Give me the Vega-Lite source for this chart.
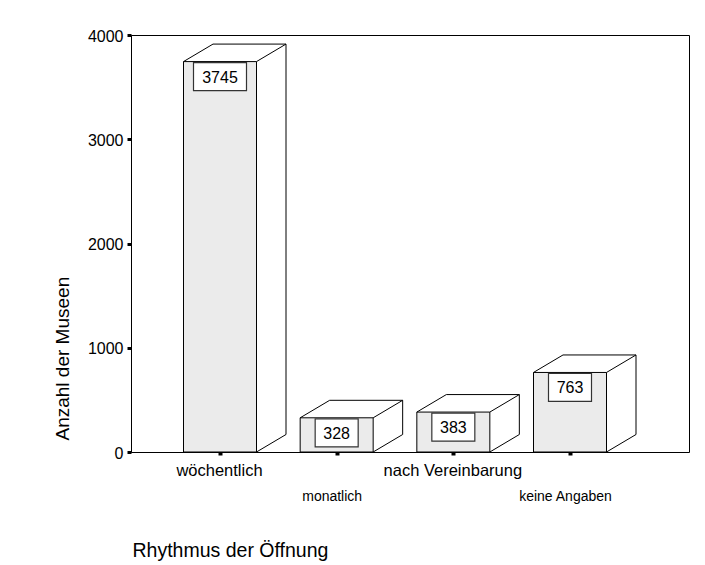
{
  "$schema": "https://vega.github.io/schema/vega-lite/v6.json",
  "width": 558,
  "height": 417,
  "autosize": {"type": "none"},
  "padding": {"left": 131, "top": 35, "right": 16, "bottom": 113},
  "background": "white",
  "config": {
    "font": "Liberation Sans",
    "view": {"stroke": "#000", "strokeWidth": 1}
  },
  "data": {
    "values": [
      {"cat": "wöchentlich", "value": 3745},
      {"cat": "monatlich", "value": 328},
      {"cat": "nach Vereinbarung", "value": 383},
      {"cat": "keine Angaben", "value": 763}
    ]
  },
  "encoding": {
    "x": {
      "field": "cat",
      "type": "nominal",
      "sort": null,
      "scale": {"type": "point", "range": [89, 439], "padding": 0},
      "axis": {
        "title": "Rhythmus der Öffnung",
        "titleFontSize": 19.5,
        "titleFontWeight": "normal",
        "titleColor": "#000",
        "titleX": 1,
        "titleY": 104,
        "titleAlign": "left",
        "titleBaseline": "alphabetic",
        "titleAnchor": "start",
        "labelAngle": 0,
        "labelFontSize": {"condition": {"test": "datum.value === 'monatlich' || datum.value === 'keine Angaben'", "value": 14}, "value": 16.5},
        "labelPadding": {"condition": {"test": "datum.value === 'monatlich' || datum.value === 'keine Angaben'", "value": 45}, "value": 20},
        "labelOffset": {"condition": {"test": "datum.value === 'monatlich' || datum.value === 'keine Angaben'", "value": -5}, "value": -1},
        "labelBaseline": "alphabetic",
        "labelColor": "#000",
        "labelOverlap": false,
        "labelFlush": false,
        "labelLimit": 0,
        "tickSize": 3,
        "tickWidth": 4,
        "tickColor": "#000",
        "domainColor": "#000",
        "domainWidth": 1
      }
    },
    "y": {
      "field": "value",
      "type": "quantitative",
      "scale": {"domain": [0, 4000], "nice": false, "zero": true},
      "axis": {
        "title": "Anzahl der Museen",
        "values": [0, 1000, 2000, 3000, 4000],
        "format": "d",
        "grid": false,
        "labelFontSize": 16,
        "labelPadding": 4,
        "labelColor": "#000",
        "labelBaseline": "middle",
        "labelOffset": 1,
        "labelFlush": false,
        "tickSize": 4,
        "tickWidth": 3,
        "tickColor": "#000",
        "domainColor": "#000",
        "domainWidth": 1,
        "titleFontSize": 19,
        "titleFontWeight": "normal",
        "titleColor": "#000",
        "titleX": -63,
        "titleY": 405,
        "titleAlign": "left",
        "titleBaseline": "alphabetic",
        "titleAngle": 270
      }
    }
  },
  "layer": [
    {
      "mark": {"type": "bar", "width": 73, "fill": "#ebebeb", "stroke": "#000", "strokeWidth": 1}
    },
    {
      "mark": {"type": "rule", "color": "#000", "strokeWidth": 1, "xOffset": -36.5, "x2Offset": -7, "y2Offset": -17.5},
      "encoding": {"x2": {"field": "cat"}, "y2": {"field": "value"}}
    },
    {
      "mark": {"type": "rule", "color": "#000", "strokeWidth": 1, "xOffset": 36.5, "x2Offset": 66, "y2Offset": -17.5},
      "encoding": {"x2": {"field": "cat"}, "y2": {"field": "value"}}
    },
    {
      "mark": {"type": "rule", "color": "#000", "strokeWidth": 1, "xOffset": -7, "x2Offset": 66, "yOffset": -17.5, "y2Offset": -17.5},
      "encoding": {"x2": {"field": "cat"}, "y2": {"field": "value"}}
    },
    {
      "mark": {"type": "rule", "color": "#000", "strokeWidth": 1, "xOffset": 66, "yOffset": -17.5, "y2Offset": -17.5},
      "encoding": {"y2": {"datum": 0}}
    },
    {
      "mark": {"type": "rule", "color": "#000", "strokeWidth": 1, "xOffset": 36.5, "x2Offset": 66, "y2Offset": -17.5},
      "encoding": {"x2": {"field": "cat"}, "y": {"datum": 0, "type": "quantitative"}, "y2": {"datum": 0}}
    },
    {
      "transform": [{"filter": "datum.value >= 1000"}],
      "mark": {"type": "rect", "fill": "white", "stroke": "#333", "strokeWidth": 1.2, "xOffset": -26.5, "x2Offset": 26.5, "yOffset": 1, "y2Offset": 29},
      "encoding": {"x2": {"field": "cat"}, "y2": {"field": "value"}}
    },
    {
      "transform": [{"filter": "datum.value < 1000"}],
      "mark": {"type": "rect", "fill": "white", "stroke": "#333", "strokeWidth": 1.2, "xOffset": -21.5, "x2Offset": 21.5, "yOffset": 1, "y2Offset": 29},
      "encoding": {"x2": {"field": "cat"}, "y2": {"field": "value"}}
    },
    {
      "mark": {"type": "text", "fontSize": 16, "baseline": "alphabetic", "align": "center", "yOffset": 21, "color": "#000"},
      "encoding": {"text": {"field": "value", "type": "quantitative", "format": "d"}}
    }
  ]
}
